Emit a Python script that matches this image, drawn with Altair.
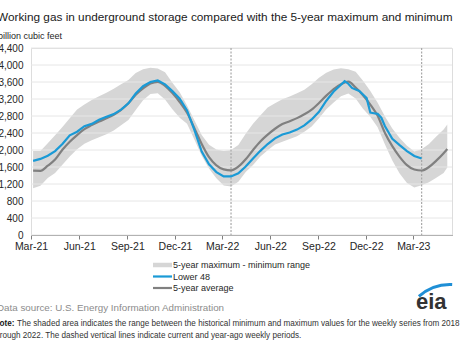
import altair as alt
import pandas as pd

FONT = "Liberation Sans"

# ---------------- data ----------------
grid_dates = [
    "2021-03-05", "2021-03-19", "2021-04-02", "2021-04-16", "2021-04-30", "2021-05-14",
    "2021-05-28", "2021-06-11", "2021-06-25", "2021-07-09", "2021-07-23", "2021-08-06",
    "2021-08-20", "2021-09-03", "2021-09-17", "2021-10-01", "2021-10-15", "2021-10-29",
    "2021-11-12", "2021-11-26", "2021-12-10", "2021-12-24",
    "2022-01-07", "2022-01-21", "2022-02-04", "2022-02-18", "2022-03-04", "2022-03-18",
    "2022-04-01", "2022-04-15", "2022-04-29", "2022-05-13", "2022-05-27", "2022-06-10",
    "2022-06-24", "2022-07-08", "2022-07-22", "2022-08-05", "2022-08-19", "2022-09-02",
    "2022-09-16", "2022-09-30", "2022-10-14", "2022-10-28", "2022-11-11", "2022-11-25",
    "2022-12-09", "2022-12-23",
    "2023-01-06", "2023-01-20", "2023-02-03", "2023-02-17", "2023-03-03", "2023-03-17",
    "2023-03-31", "2023-04-14", "2023-04-28", "2023-05-05",
]
avg_vals = [
    1513, 1510, 1631, 1775, 2005, 2195, 2352, 2490, 2585, 2670, 2745, 2828, 2944, 3098,
    3300, 3450, 3565, 3605, 3510, 3340, 3130, 2875,
    2515, 2140, 1830, 1640, 1545, 1522, 1608, 1780, 2000, 2200, 2360, 2500, 2610, 2678,
    2750, 2840, 2950, 3105, 3280, 3435, 3550, 3610, 3470, 3290, 3070, 2805,
    2400, 2090, 1840, 1645, 1540, 1518, 1600, 1750, 1925, 2025,
]
max_vals = [
    1976, 1976, 2157, 2345, 2540, 2750, 2955, 3070, 3175, 3265, 3350, 3440, 3545, 3650,
    3810, 3900, 3935, 3920, 3830, 3580, 3360, 3050,
    2700, 2355, 2125, 2010, 1978, 2000, 2118, 2380, 2615, 2810, 3000, 3100, 3195, 3260,
    3335, 3420, 3550, 3700, 3820, 3895, 3922, 3900, 3840, 3630, 3390, 3110,
    2790, 2505, 2280, 2100, 1965, 2020, 2140, 2320, 2480, 2600,
]
min_vals = [
    1098, 1160, 1340, 1460, 1655, 1845, 2020, 2150, 2230, 2300, 2370, 2458, 2580, 2706,
    2940, 3170, 3315, 3335, 3190, 2960, 2760, 2620,
    2250, 1865, 1565, 1335, 1165, 1140, 1255, 1480, 1650, 1850, 1995, 2130, 2195, 2260,
    2325, 2430, 2555, 2750, 2960, 3120, 3265, 3330, 3210, 2970, 2780, 2535,
    2130, 1755, 1450, 1225, 1115, 1170, 1240, 1350, 1460, 1590,
]

l48_dates = [
    "2021-03-05", "2021-03-19", "2021-04-02", "2021-04-16", "2021-04-30", "2021-05-14",
    "2021-05-28", "2021-06-11", "2021-06-25", "2021-07-09", "2021-07-23", "2021-08-06",
    "2021-08-20", "2021-09-03", "2021-09-17", "2021-10-01", "2021-10-15", "2021-10-29",
    "2021-11-12", "2021-11-26", "2021-12-10", "2021-12-24",
    "2022-01-07", "2022-01-21", "2022-02-04", "2022-02-18", "2022-03-04", "2022-03-18",
    "2022-04-01", "2022-04-15", "2022-04-29", "2022-05-13", "2022-05-27", "2022-06-10",
    "2022-06-24", "2022-07-08", "2022-07-22", "2022-08-05", "2022-08-19", "2022-09-02",
    "2022-09-16", "2022-09-30", "2022-10-14", "2022-10-21", "2022-10-28", "2022-11-04",
    "2022-11-11", "2022-11-18", "2022-11-25", "2022-12-02", "2022-12-09", "2022-12-16",
    "2022-12-23", "2022-12-30",
    "2023-01-06", "2023-01-20", "2023-02-03", "2023-02-17", "2023-03-03", "2023-03-17",
]
l48_vals = [
    1745, 1790, 1865, 1975, 2140, 2345, 2430, 2560, 2615, 2710, 2780, 2845, 2950, 3098,
    3330, 3500, 3600, 3635, 3545, 3385, 3205, 2930,
    2475, 1961, 1665, 1480, 1380, 1378, 1451, 1610, 1800, 1980, 2140, 2275, 2365, 2413,
    2480, 2580, 2720, 2900, 3160, 3375, 3535, 3620, 3560, 3460, 3425, 3390, 3305, 3220,
    2880, 2865, 2850, 2760,
    2560, 2265, 2115, 1975, 1860, 1800,
]

x_ticks = ["2021-03-01", "2021-06-01", "2021-09-01", "2021-12-01", "2022-03-01",
           "2022-06-01", "2022-09-01", "2022-12-01", "2023-03-01"]
x_domain = ["2021-03-01", "2023-05-14"]
ref_dates = ["2022-03-18", "2023-03-17"]
y_ticks = [0, 400, 800, 1200, 1600, 2000, 2400, 2800, 3200, 3600, 4000, 4400]
month_abbr = ["Jan", "Feb", "Mar", "Apr", "May", "Jun", "Jul", "Aug", "Sep", "Oct", "Nov", "Dec"]

legend_labels = ["5-year maximum - minimum range", "Lower 48", "5-year average"]


def ms(s):
    return int(pd.Timestamp(s, tz="UTC").value // 10**6)


# ---------------- layout ----------------
W, H = 421, 187
PL, PT = 31, 48

BAND = "#d6d6d6"
GRID = "#e6e6e6"
BLUE = "#1a9ad6"
GRAY = "#808080"

x_scale = alt.Scale(type="utc", domain=[ms(d) for d in x_domain])
y_scale = alt.Scale(domain=[0, 4400], nice=False)

band_df = pd.DataFrame({"date": grid_dates, "avg": avg_vals, "lo": min_vals, "hi": max_vals})
l48_df = pd.DataFrame({"date": l48_dates, "val": l48_vals})
grid_df = pd.DataFrame({"v": y_ticks})
ref_df = pd.DataFrame({"date": ref_dates})

months_js = "[" + ",".join("'%s'" % m for m in month_abbr) + "]"
x_label_expr = months_js + "[utcmonth(datum.value)] + '-' + (utcyear(datum.value) % 100)"
y_label_expr = ("datum.value >= 1000 ? floor(datum.value / 1000) + ',' + "
                "(datum.value % 1000 == 0 ? '000' : toString(datum.value % 1000)) "
                ": toString(datum.value)")

x_axis = alt.Axis(
    values=[ms(t) for t in x_ticks], labelExpr=x_label_expr, title=None,
    grid=False, domainColor="#7f7f7f", tickColor="#7f7f7f", tickSize=4,
    labelPadding=2, labelFont=FONT, labelFontSize=10.5, labelColor="#262626",
    labelFlush=False, labelOverlap=False,
)
y_axis = alt.Axis(
    values=y_ticks, labelExpr=y_label_expr, title=None, grid=False, domain=False, ticks=False,
    labelPadding=8, labelFont=FONT, labelFontSize=10, labelColor="#262626",
)


def X(field):
    return alt.X(field, scale=x_scale, axis=None)


def Y(field):
    return alt.Y(field, scale=y_scale, axis=None)


band = alt.Chart(band_df).mark_area(color=BAND, opacity=1).encode(
    x=alt.X("date:T", scale=x_scale, axis=x_axis),
    y=alt.Y("lo:Q", scale=y_scale, axis=y_axis),
    y2="hi:Q",
)

grid = alt.Chart(grid_df).mark_rule(color=GRID, strokeWidth=1).encode(
    y=Y("v:Q"),
)

refs = alt.Chart(ref_df).mark_rule(color="#a8a8a8", strokeWidth=1.2, strokeDash=[2, 1.5]).encode(
    x=X("date:T"),
)

avg_line = alt.Chart(band_df).mark_line(color=GRAY, strokeWidth=2.2, interpolate="monotone").encode(
    x=X("date:T"), y=Y("avg:Q"),
)

l48_line = alt.Chart(l48_df).mark_line(color=BLUE, strokeWidth=2.2).encode(
    x=X("date:T"), y=Y("val:Q"),
)

one = alt.Data(values=[{}])


def txt(s, ax, ay, size, color="#262626", weight="normal", align="left", baseline="alphabetic"):
    return alt.Chart(one).mark_text(
        text=s, font=FONT, fontSize=size, color=color, fontWeight=weight,
        align=align, baseline=baseline,
    ).encode(x=alt.value(ax - PL), y=alt.value(ay - PT))


def seg(x1, x2, ay, color, width):
    return alt.Chart(one).mark_rule(color=color, strokeWidth=width).encode(
        x=alt.value(x1 - PL), x2=alt.value(x2 - PL), y=alt.value(ay - PT)
    )


title = txt("Working gas in underground  storage compared with the 5-year maximum and minimum",
            -3, 21, 11.8, color="#1a1a1a")
unit = txt("billion cubic feet", -2, 39, 9, color="#262626")

rows = [265, 276.5, 288]
legend = [
    seg(153, 172, rows[0], BAND, 4.5),
    seg(153, 172, rows[1], BLUE, 2.2),
    seg(153, 172, rows[2], GRAY, 2.2),
]
for lbl, ry in zip(legend_labels, rows):
    legend.append(txt(lbl, 173, ry, 9.0, baseline="middle"))

source = txt("Data source:  U.S. Energy Information Administration", -3, 311, 9.8,
             color="#8c8c8c", weight="normal")
note_b = txt("Note:", -6.5, 326, 8.2, color="#1a1a1a", weight="bold")
note_1 = txt("The shaded area indicates the range between the historical minimum and maximum values for the weekly series from 2018",
             17, 326, 8.15, color="#333333")
note_2 = txt("through 2022. The dashed vertical lines indicate current and year-ago weekly periods.",
             -7, 338, 8.15, color="#333333")

eia = txt("eia", 416, 309, 22, color="#333333", weight="bold")
swoosh = alt.Chart(one).mark_arc(color="#1f8fd6").encode(
    x=alt.value(450 - PL), y=alt.value(331 - PT),
    radius=alt.value(48), radius2=alt.value(45),
    theta=alt.value(5.55), theta2=alt.value(6.33),
)

chart = alt.layer(
    band, grid, refs, avg_line, l48_line,
    title, unit, *legend, source, note_b, note_1, note_2, eia, swoosh,
).resolve_axis(x="independent", y="independent").properties(
    width=W, height=H,
    padding={"left": PL, "top": PT, "right": 466 - PL - W, "bottom": 350 - PT - H},
    autosize=alt.AutoSizeParams(type="none"),
).configure_view(stroke=None).configure(background="white")

chart.save("out.html", embed_options={"renderer": "svg", "actions": False})
